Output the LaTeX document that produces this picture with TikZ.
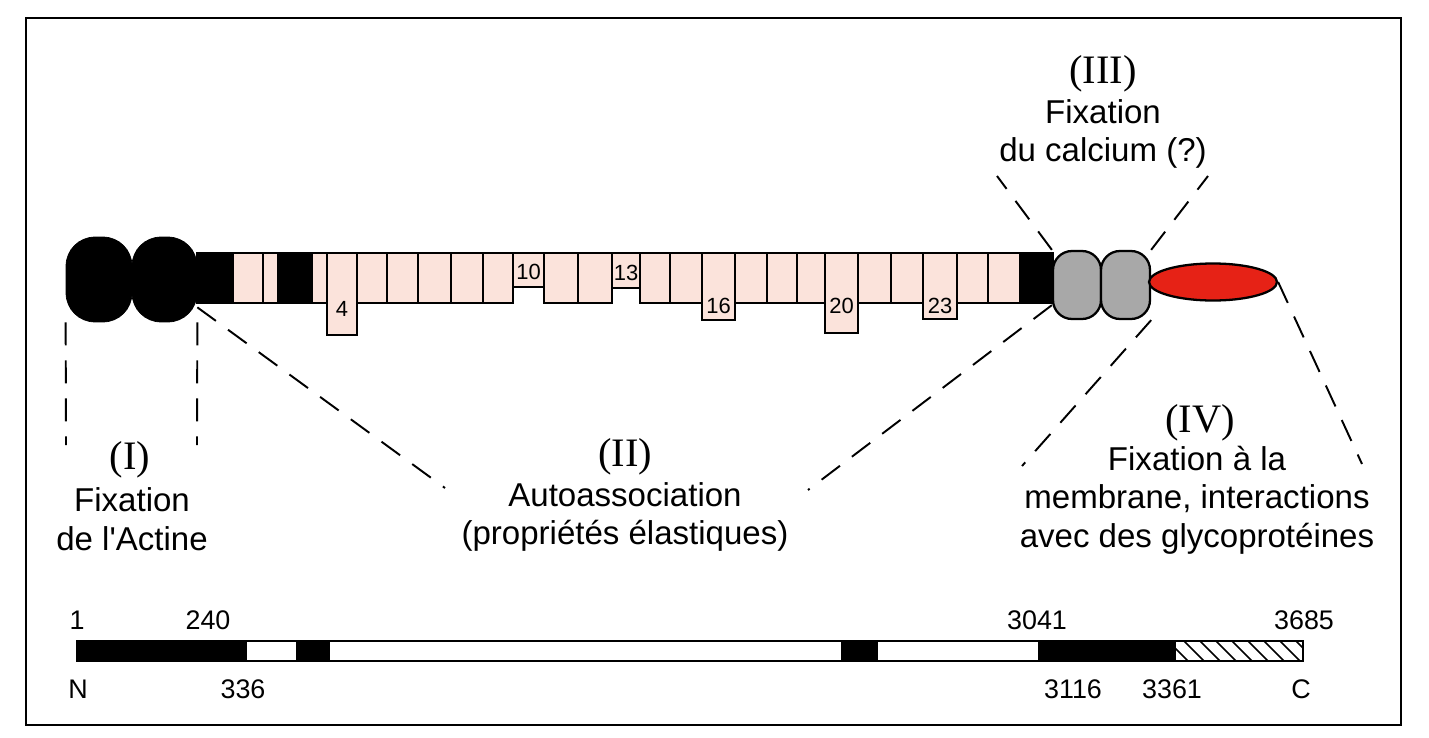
\documentclass[tikz,border=0pt]{standalone}
\usepackage{fontspec}
\setmainfont{Liberation Sans}
\newfontfamily\labfont{Liberation Sans}
\newfontfamily\romfont{Liberation Serif}
\usetikzlibrary{shapes.geometric}
\definecolor{repeatpink}{RGB}{251,227,219}
\definecolor{calgray}{RGB}{168,168,168}
\definecolor{ctred}{RGB}{230,34,22}

\begin{document}
\begin{tikzpicture}[x=0.02cm,y=-0.02cm,
    rep/.style={draw=black,line width=1pt,fill=repeatpink},
    hinge/.style={draw=black,line width=1pt,fill=black},
    actinlobe/.style={draw=black,fill=black,rounded corners=0.58cm,
      minimum height=1.7cm,inner sep=0pt},
    calobe/.style={draw=black,line width=1.3pt,fill=calgray,rounded corners=0.38cm,
      minimum height=1.36cm,inner sep=0pt},
    guide/.style={line width=1.1pt,dash pattern=on 0.46cm off 0.3cm},
    repnum/.style={font=\fontsize{12.5}{13}\selectfont,inner sep=0pt},
    roman/.style={font=\romfont\fontsize{23}{26}\selectfont,inner sep=0pt},
    caption/.style={align=center,font=\labfont\fontsize{18.8}{22}\selectfont,inner sep=0pt},
    barnum/.style={font=\fontsize{15.3}{16}\selectfont,inner sep=0pt}]
  \useasboundingbox (0,0) rectangle (1429,737);
  \draw[line width=1.6pt] (26,18) rectangle (1401,725);

  % rod: black hinges and spectrin-like repeats
  \draw[hinge] (197,253) rectangle (233,303);
  \draw[hinge] (278,253) rectangle (312,303);
  \draw[hinge] (1020,253) rectangle (1053,303);
  \foreach \xa/\xb/\yb in {233/263/303, 263/278/303, 312/327/303, 327/357/335,
      357/387/303, 387/418/303, 418/451/303, 451/483/303, 483/513/303,
      513/544/287, 544/578/303, 578/612/303, 612/640/288, 640/670/303,
      670/702/303, 702/735/320, 735/767/303, 767/797/303, 797/825/303,
      825/858/333, 858/891/303, 891/923/303, 923/957/319, 957/988/303,
      988/1020/303}
    \draw[rep] (\xa,253) rectangle (\xb,\yb);
  \foreach \num/\xc/\ly in {4/342/309, 10/528.5/272, 13/626/273, 16/718.5/306,
      20/841.5/306, 23/940/306}
    \node[repnum] (r\num) at (\xc,\ly) {\num};

  % end domains
  \node[actinlobe,minimum width=1.32cm] (act1) at (99,279.5) {};
  \node[actinlobe,minimum width=1.30cm] (act2) at (164.5,279.5) {};
  \node[calobe,minimum width=0.96cm] (ca1) at (1077,285) {};
  \node[calobe,minimum width=0.98cm] (ca2) at (1125.5,285) {};
  \node[ellipse,draw=black,line width=1.3pt,fill=ctred,minimum width=2.56cm,
    minimum height=0.74cm,inner sep=0pt] (ctd) at (1213,282) {};

  % region labels
  \node[roman] (labI) at (130,460) {(I)};
  \node[caption] (capI) at (132,519) {Fixation\\de l'Actine};
  \node[roman] (labII) at (625,457) {(II)};
  \node[caption] (capII) at (625,517) {Autoassociation\\(propriétés élastiques)};
  \node[roman] (labIII) at (1103,74) {(III)};
  \node[caption] (capIII) at (1103,134) {Fixation\\du calcium (?)};
  \node[roman] (labIV) at (1200,423) {(IV)};
  \node[caption] (capIV) at (1197,500)
    {Fixation à la\\membrane, interactions\\avec des glycoprotéines};

  % dashed guides
  \coordinate (tickL) at (66,445);
  \coordinate (tickR) at (197,445);
  \coordinate (autoL) at (445,488);
  \coordinate (autoR) at (808,490);
  \coordinate (calL) at (997,176);
  \coordinate (calR) at (1208,176);
  \coordinate (memL) at (1022,466);
  \coordinate (memR) at (1362,464);
  \draw[guide] (act1.south west) -- (tickL);
  \draw[guide] (act2.south east) -- (tickR);
  \draw[guide] ([yshift=0.3cm]act2.south east) -- (autoL);
  \draw[guide] ([yshift=0.3cm]ca1.south west) -- (autoR);
  \draw[guide] (ca1.north west) -- (calL);
  \draw[guide] (ca2.north east) -- (calR);
  \draw[guide] (ca2.south east) -- (memL);
  \draw[guide] (ctd.east) -- (memR);

  % sequence bar
  \draw[line width=1pt] (77,641) rectangle (1303,661);
  \foreach \xa/\xb in {77/247, 296/330, 841/878, 1038/1176}
    \fill (\xa,641) rectangle (\xb,661);
  \begin{scope}
    \clip (1176,641) rectangle (1303,661);
    \foreach \k in {0,...,8}
      \draw[line width=0.9pt] (1168+\k*16,641) -- ++(20,20);
  \end{scope}
  \node[barnum] (n1) at (77,620) {1};
  \node[barnum] (n240) at (208,620) {240};
  \node[barnum] (n3041) at (1037,620) {3041};
  \node[barnum] (n3685) at (1304,620) {3685};
  \node[barnum] (nN) at (78,689) {N};
  \node[barnum] (n336) at (243,689) {336};
  \node[barnum] (n3116) at (1073,689) {3116};
  \node[barnum] (n3361) at (1172,689) {3361};
  \node[barnum] (nC) at (1301,689) {C};
\end{tikzpicture}
\end{document}
